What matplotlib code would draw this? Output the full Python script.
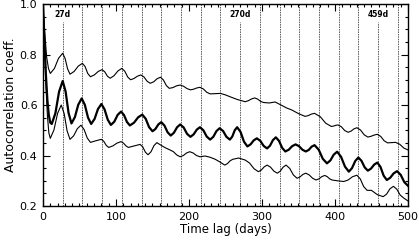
import matplotlib
matplotlib.use('Agg')
import matplotlib.pyplot as plt
from matplotlib.ticker import MultipleLocator

# ---- data ----
# upper thin curve
t_up = [0, 2, 5, 7.5, 10, 15.7, 21.3, 27, 30.3, 33.7, 37, 42.7, 48.3, 54, 57.7, 61.3, 65,
        70.3, 75.7, 81, 84.7, 88.3, 92, 97.3, 102.7, 108, 112, 116, 120, 124.7, 129.3, 134,
        138.3, 142.7, 147, 151.7, 156.3, 161, 165, 169, 173, 178, 183, 188, 192.7, 197.3,
        202, 206.3, 210.7, 215, 219.7, 224.3, 229, 236, 243, 250, 256, 266, 277, 281.3,
        285.7, 290, 294, 298, 302, 310, 318, 326, 334, 341, 350, 359, 363.3, 367.7, 372,
        379.7, 387.3, 395, 398, 401, 404, 408.7, 413.3, 418, 422, 426, 430, 435, 440, 445,
        449.3, 453.7, 458, 462.7, 467.3, 472, 477, 483, 488.7, 494.3, 500]
v_up = [1.0, 0.90, 0.79, 0.745, 0.725, 0.745, 0.785, 0.805, 0.784, 0.743, 0.722, 0.733,
        0.754, 0.765, 0.752, 0.725, 0.712, 0.719, 0.733, 0.74, 0.731, 0.714, 0.706, 0.716,
        0.735, 0.745, 0.734, 0.711, 0.70, 0.705, 0.714, 0.719, 0.711, 0.694, 0.686, 0.692,
        0.704, 0.71, 0.699, 0.677, 0.666, 0.669, 0.676, 0.679, 0.674, 0.665, 0.66, 0.6625,
        0.6675, 0.67, 0.6635, 0.6505, 0.644, 0.645, 0.646, 0.64, 0.633, 0.622, 0.613,
        0.617, 0.624, 0.628, 0.6235, 0.6145, 0.61, 0.608, 0.612, 0.600, 0.588, 0.58, 0.566,
        0.555, 0.558, 0.564, 0.567, 0.554, 0.528, 0.515, 0.5165, 0.5195, 0.521, 0.514,
        0.499, 0.492, 0.4965, 0.5055, 0.51, 0.501, 0.482, 0.473, 0.476, 0.481, 0.484,
        0.4755, 0.4585, 0.45, 0.451, 0.452, 0.4445, 0.4295, 0.422]

# middle thick curve
t_mid = [0, 2, 4, 6, 8, 10, 12, 17, 22, 27, 31, 35, 39, 43.7, 48.3, 53, 57.3, 61.7, 66,
         70.7, 75.3, 80, 84.3, 88.7, 93, 97.7, 102.3, 107, 111, 115, 119, 124.7, 130.3, 136,
         140.7, 145.3, 150, 154, 158, 162, 166.3, 170.7, 175, 179.3, 183.7, 188, 192.7,
         197.3, 202, 206.3, 210.7, 215, 219.7, 224.3, 229, 233.3, 237.7, 242, 246.7, 251.3,
         256, 259.3, 262.7, 266, 270.7, 275.3, 280, 284.3, 288.7, 293, 297.7, 302.3, 307,
         311, 315, 319, 323.3, 327.7, 332, 336.7, 341.3, 346, 350.7, 355.3, 360, 364, 368,
         372, 377.7, 383.3, 389, 393.7, 398.3, 403, 408.3, 413.7, 419, 423.3, 427.7, 432,
         436.3, 440.7, 445, 449.3, 453.7, 458, 462.3, 466.7, 471, 475.7, 480.3, 485, 490,
         495, 500]
v_mid = [1.0, 0.86, 0.72, 0.62, 0.56, 0.53, 0.525, 0.5675, 0.6525, 0.695, 0.653, 0.569,
         0.527, 0.552, 0.601, 0.626, 0.601, 0.55, 0.525, 0.545, 0.584, 0.604, 0.583, 0.542,
         0.521, 0.534, 0.561, 0.574, 0.56, 0.533, 0.519, 0.53, 0.551, 0.562, 0.5455, 0.5125,
         0.496, 0.505, 0.523, 0.532, 0.519, 0.492, 0.479, 0.49, 0.512, 0.523, 0.511, 0.486,
         0.474, 0.4835, 0.5025, 0.512, 0.50, 0.475, 0.463, 0.474, 0.497, 0.508, 0.497,
         0.474, 0.463, 0.475, 0.50, 0.512, 0.493, 0.455, 0.436, 0.444, 0.46, 0.468, 0.458,
         0.438, 0.428, 0.439, 0.461, 0.472, 0.458, 0.43, 0.416, 0.423, 0.437, 0.444, 0.437,
         0.423, 0.416, 0.422, 0.435, 0.441, 0.423, 0.387, 0.369, 0.3805, 0.4035, 0.415,
         0.395, 0.356, 0.336, 0.35, 0.378, 0.392, 0.379, 0.353, 0.34, 0.348, 0.364, 0.372,
         0.355, 0.32, 0.303, 0.312, 0.329, 0.338, 0.3235, 0.2945, 0.28]

# lower thin curve
t_low = [0, 2, 4, 6, 8, 10, 15, 20, 25, 29, 33, 37, 42, 47, 52, 56.3, 60.7, 65, 72, 80,
         83.3, 86.7, 90, 95.7, 101.3, 107, 110.3, 113.7, 117, 125, 133, 136.7, 140.3, 144,
         148, 152, 156, 162, 168, 174, 178.7, 183.3, 188, 192.3, 196.7, 201, 205.7, 210.3,
         215, 222, 229, 236, 242, 249, 252.7, 256.3, 260, 268, 277, 283, 289, 295, 299, 303,
         307, 311.7, 316.3, 321, 325, 329, 333, 338, 343, 348, 352, 356, 360, 364.7, 369.3,
         374, 378, 382, 386, 389.3, 392.7, 396, 403, 412, 418, 424, 430, 434.7, 439.3, 444,
         450, 458, 466, 470.7, 475.3, 480, 484.7, 489.3, 494, 500]
v_low = [1.0, 0.84, 0.68, 0.56, 0.49, 0.468, 0.501, 0.567, 0.60, 0.566, 0.498, 0.464,
         0.478, 0.506, 0.52, 0.503, 0.469, 0.452, 0.458, 0.464, 0.456, 0.44, 0.432, 0.438,
         0.449, 0.455, 0.449, 0.438, 0.432, 0.438, 0.444, 0.434, 0.413, 0.403, 0.415, 0.439,
         0.451, 0.44, 0.43, 0.422, 0.415, 0.402, 0.395, 0.40, 0.41, 0.415, 0.41, 0.40, 0.395,
         0.398, 0.393, 0.385, 0.375, 0.362, 0.368, 0.379, 0.385, 0.39, 0.382, 0.37, 0.348,
         0.336, 0.342, 0.355, 0.362, 0.354, 0.338, 0.33, 0.338, 0.354, 0.362, 0.349, 0.323,
         0.31, 0.315, 0.325, 0.33, 0.323, 0.31, 0.303, 0.3075, 0.3165, 0.321, 0.3165,
         0.3075, 0.303, 0.300, 0.297, 0.303, 0.316, 0.322, 0.307, 0.277, 0.262, 0.262,
         0.245, 0.237, 0.247, 0.268, 0.278, 0.2665, 0.2435, 0.232, 0.22]

# 27-day rotation markers
rot_lags = [27 * k for k in range(1, 19)]
rot_labels = {27: '27d', 270: '270d', 459: '459d'}

FONT = 'DejaVu Sans'

# ---- plot ----
fig = plt.figure(figsize=(4.19, 2.44), dpi=100)
ax = fig.add_axes([0.1026, 0.1557, 0.8711, 0.8279])

for lag in rot_lags:
    top = 0.93 if lag in rot_labels else 1.0
    ax.plot([lag, lag], [0.2, top], color='#333333', lw=0.55, ls=(0, (2, 1.2)))
for lag, txt in rot_labels.items():
    ax.text(lag, 0.957, txt, ha='center', va='center', fontsize=5.5, fontweight='bold',
            family=FONT)

ax.plot(t_up, v_up, color='k', lw=0.8)
ax.plot(t_mid, v_mid, color='k', lw=1.6)
ax.plot(t_low, v_low, color='k', lw=0.8)

ax.set_xlim(0, 500)
ax.set_ylim(0.2, 1.0)
ax.xaxis.set_major_locator(MultipleLocator(100))
ax.xaxis.set_minor_locator(MultipleLocator(10))
ax.yaxis.set_major_locator(MultipleLocator(0.2))
ax.yaxis.set_minor_locator(MultipleLocator(0.05))
ax.tick_params(which='both', direction='in', top=True, right=True, labelsize=8, width=0.8)
ax.tick_params(which='major', length=5, pad=4)
ax.tick_params(which='minor', length=2.5)
for lab in ax.get_xticklabels() + ax.get_yticklabels():
    lab.set_family(FONT)
for sp in ax.spines.values():
    sp.set_linewidth(1.0)

ax.set_xlabel('Time lag (days)', fontsize=8.5, family=FONT, labelpad=1)
ax.set_ylabel('Autocorrelation coeff.', fontsize=9, family=FONT, labelpad=2)

plt.savefig('out.png', dpi=100)
